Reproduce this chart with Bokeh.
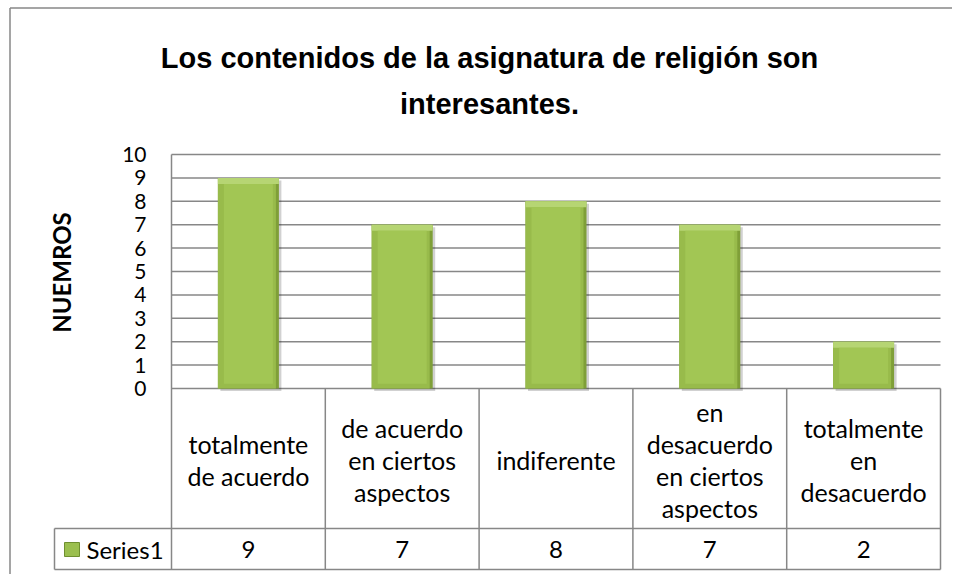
import math
from bokeh.plotting import figure
from bokeh.models import Range1d, ColumnDataSource
from bokeh.embed import file_html
from bokeh.resources import INLINE
from bokeh.core.properties import value

# ---------------- data ----------------
title_lines = ["Los contenidos de la asignatura de religión son", "interesantes."]
y_label = "NUEMROS"
categories = [
    "totalmente\nde acuerdo",
    "de acuerdo\nen ciertos\naspectos",
    "indiferente",
    "en\ndesacuerdo\nen ciertos\naspectos",
    "totalmente\nen\ndesacuerdo",
]
series_name = "Series1"
values = [9, 7, 8, 7, 2]
y_ticks = [0, 1, 2, 3, 4, 5, 6, 7, 8, 9, 10]
y_tick_labels = [str(t) for t in y_ticks]

# ---------------- geometry (picture pixels) ----------------
W, H = 952, 574
PAGE_OFF = 0
PLOT_L, PLOT_R = 171, 940
Y0_PX, YTOP_PX = 388, 154
ROW1_BOTTOM = 528
ROW2_BOTTOM = 569
LEGEND_L = 54
n = len(categories)
CW = (PLOT_R - PLOT_L) / n
UNIT = (Y0_PX - YTOP_PX) / (y_ticks[-1] - y_ticks[0])


def px2x(px):
    return (px - PLOT_L) / CW - 0.5


def py2y(py):
    return (Y0_PX - py) / UNIT


def dx(pixels):
    return pixels / CW


def dy(pixels):
    return pixels / UNIT


GRID = "#878787"
BODY_FONT = value("Lato")

p = figure(
    width=W, height=H,
    x_range=Range1d(px2x(PAGE_OFF), px2x(PAGE_OFF + W)),
    y_range=Range1d(py2y(PAGE_OFF + H), py2y(PAGE_OFF)),
    output_backend="svg", toolbar_location=None,
    x_axis_location=None, y_axis_location=None,
    min_border=0,
)
p.grid.visible = False
p.outline_line_color = None
p.background_fill_color = "white"
p.border_fill_color = "white"

# outer chart frame (left and top visible)
p.segment(x0=[px2x(9.5)], y0=[py2y(7.5)], x1=[px2x(9.5)], y1=[py2y(PAGE_OFF + H)],
          line_color=GRID, line_width=1.5)
p.segment(x0=[px2x(9.5)], y0=[py2y(7.5)], x1=[px2x(PAGE_OFF + W)], y1=[py2y(7.5)],
          line_color=GRID, line_width=1.5)

# horizontal gridlines
p.segment(x0=[px2x(PLOT_L)] * len(y_ticks), y0=y_ticks,
          x1=[px2x(PLOT_R)] * len(y_ticks), y1=y_ticks,
          line_color=GRID, line_width=1.5)

# bars with bevel look
idx = list(range(n))
bw = dx(61)
bev = dy(6)
bevx = dx(6)
src = ColumnDataSource(dict(
    x=idx,
    xs=[i + dx(2.5) for i in idx],
    top=values,
    top_s=[v - dy(2.5) for v in values],
    bot_s=[-dy(2.5) for _ in values],
    top_in=[v - bev for v in values],
    bot_in=[bev * 0.8 for _ in values],
    left_x=[i - dx(1.5) for i in idx],
))
p.vbar(x="xs", top="top_s", bottom="bot_s", width=bw, source=src,
       fill_color="#000000", fill_alpha=0.18, line_color=None)
p.vbar(x="x", top="top", bottom=0, width=bw, source=src,
       fill_color="#7f9f38", line_color=None)
p.vbar(x="left_x", top="top", bottom=0, width=bw - dx(3), source=src,
       fill_color="#98bb4b", line_color=None)
p.vbar(x="x", top="top", bottom="top_in", width=bw, source=src,
       fill_color="#b6d573", line_color=None)
p.vbar(x="x", top="top_in", bottom="bot_in", width=bw - 2 * bevx, source=src,
       fill_color="#a2c654", line_color=None)

# y axis line (also table divider)
p.segment(x0=[px2x(PLOT_L)], y0=[py2y(YTOP_PX)], x1=[px2x(PLOT_L)], y1=[py2y(ROW2_BOTTOM)],
          line_color=GRID, line_width=1.5)

# data table lines
p.segment(x0=[px2x(LEGEND_L)] * 2, y0=[py2y(ROW1_BOTTOM), py2y(ROW2_BOTTOM)],
          x1=[px2x(PLOT_R)] * 2, y1=[py2y(ROW1_BOTTOM), py2y(ROW2_BOTTOM)],
          line_color=GRID, line_width=1.5)
p.segment(x0=[i + 0.5 for i in idx], y0=[0] * n,
          x1=[i + 0.5 for i in idx], y1=[py2y(ROW2_BOTTOM)] * n,
          line_color=GRID, line_width=1.5)
p.segment(x0=[px2x(LEGEND_L)], y0=[py2y(ROW1_BOTTOM)], x1=[px2x(LEGEND_L)], y1=[py2y(ROW2_BOTTOM)],
          line_color=GRID, line_width=1.5)

# category labels (multi-line)
LINE_SP = 32
ROW1_CENTER = 459
cx, cy, ct = [], [], []
for i, cat in enumerate(categories):
    lines = cat.split("\n")
    m = len(lines)
    for k, ln in enumerate(lines):
        cx.append(i)
        cy.append(py2y(ROW1_CENTER + (k - (m - 1) / 2) * LINE_SP))
        ct.append(ln)
p.text(x=cx, y=cy, text=ct, text_font=BODY_FONT, text_font_size="25px",
       text_align="center", text_baseline="middle", text_color="#000000")

# values row
p.text(x=idx, y=[py2y(549)] * n, text=[str(v) for v in values],
       text_font=BODY_FONT, text_font_size="24px",
       text_align="center", text_baseline="middle", text_color="#000000")

# legend key in table
p.quad(left=[px2x(64)], right=[px2x(79)], top=[py2y(542)], bottom=[py2y(556)],
       fill_color="#9bbf4f", line_color="#6f8f30", line_width=1)
p.text(x=[px2x(86)], y=[py2y(549)], text=[series_name],
       text_font=BODY_FONT, text_font_size="24px",
       text_align="left", text_baseline="middle", text_color="#000000")

# y tick labels
p.text(x=[px2x(146)] * len(y_ticks), y=y_ticks, text=y_tick_labels,
       text_font=BODY_FONT, text_font_size="21px",
       text_align="right", text_baseline="middle", text_color="#000000")

# y axis title
p.text(x=[px2x(61)], y=[py2y(272)], text=[y_label], angle=math.pi / 2,
       text_font=BODY_FONT, text_font_size="24px", text_font_style="bold",
       text_align="center", text_baseline="middle", text_color="#000000")

# chart title
p.text(x=[px2x(489), px2x(489)], y=[py2y(57), py2y(103)], text=title_lines,
       text_font=value("Liberation Sans"), text_font_size="29px", text_font_style="bold",
       text_align="center", text_baseline="alphabetic", text_color="#000000")

open("out.html", "w").write(file_html(p, INLINE))
